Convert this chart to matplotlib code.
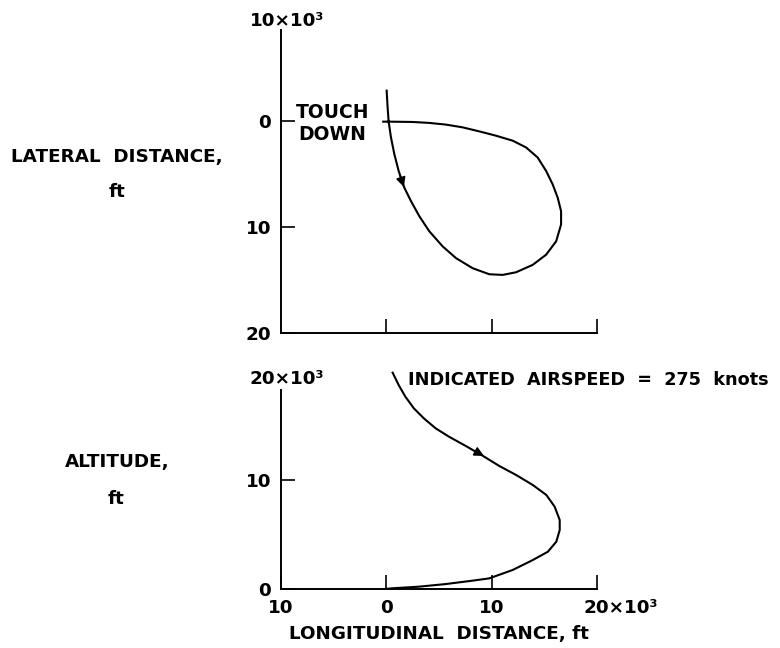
import numpy as np
import matplotlib
matplotlib.use('Agg')
import matplotlib.pyplot as plt

# flight path, distances in thousands of ft
lat_x = [0.03, 0.12, 0.22, 0.44, 0.76, 1.17, 1.71, 2.34, 3.13, 4.08, 5.35, 6.62, 8.2,
         9.78, 11.05, 12.32, 13.9, 15.17, 16.12, 16.59, 16.59, 16.27, 15.79, 15.17,
         14.37, 13.27, 12.0, 10.42, 8.83, 7.25, 5.67, 4.08, 2.5, 0.28, -0.3]
lat_y = [-2.9, -1.33, 0.03, 1.52, 3.1, 4.69, 6.27, 7.54, 8.96, 10.39, 11.82, 12.93, 13.88,
         14.45, 14.51, 14.26, 13.56, 12.6, 11.34, 9.75, 8.49, 7.22, 5.95, 4.69,
         3.42, 2.47, 1.83, 1.36, 0.95, 0.57, 0.31, 0.15, 0.06, 0.03, 0.03]

alt_x = [0.6, 1.17, 1.81, 2.61, 3.56, 4.68, 5.95, 7.55, 9.13, 10.73, 12.32, 13.91, 15.19,
         15.98, 16.46, 16.46, 16.14, 15.34, 13.91, 12.0, 9.77, 8.18, 5.64, 3.09, 0.53, -0.1]
alt_y = [19.82, 18.69, 17.62, 16.56, 15.64, 14.73, 13.96, 13.11, 12.23, 11.28, 10.46,
         9.54, 8.63, 7.56, 6.34, 5.43, 4.36, 3.44, 2.68, 1.77, 1.0, 0.79, 0.48, 0.24,
         0.09, 0.03]

# arrow heads (tail, head)
lat_arrow = [(1.2, 4.8), (1.75, 6.45)]
alt_arrow = [(8.2, 12.75), (9.5, 12.08)]

fs = 13.2
fw = 'bold'
plt.rcParams['font.family'] = ['DejaVu Sans']
plt.rcParams['font.weight'] = fw

W, H = 780, 648
fig = plt.figure(figsize=(7.8, 6.48), dpi=100)

def px_axes(x0, x1, ytop, ybot):
    return fig.add_axes([x0 / W, 1 - ybot / H, (x1 - x0) / W, (ybot - ytop) / H])

# top panel: lateral distance (inverted)
ax1 = px_axes(281, 597, 15.5, 333)
ax1.plot(lat_x, lat_y, color='black', lw=1.5, solid_joinstyle='round')
ax1.annotate('', xy=lat_arrow[1], xytext=lat_arrow[0],
             arrowprops=dict(arrowstyle='-|>', color='black', lw=1.2, mutation_scale=14))
ax1.set_xlim(-10, 20)
ax1.set_ylim(20, -10)
ax1.spines['left'].set_bounds(-8.6, 20)
ax1.spines['bottom'].set_bounds(-10, 20)
ax1.spines['top'].set_visible(False)
ax1.spines['right'].set_visible(False)
ax1.set_xticks([0, 10, 20])
ax1.set_xticklabels([])
ax1.set_yticks([0, 10, 20])
ax1.set_yticklabels(['0', '10', '20'])
ax1.tick_params(direction='in', length=10, width=1.2, labelsize=fs, pad=7)
ax1.annotate('10×10³', xy=(0, -9.5), xycoords=ax1.get_yaxis_transform(),
             xytext=(-22.5, 0), textcoords='offset points', ha='left', va='center',
             fontsize=fs, fontweight=fw)
ax1.text(-5.1, 0.2, 'TOUCH\nDOWN', ha='center', va='center', fontsize=13.5,
         fontweight=fw, linespacing=1.25)
fig.text(117 / W, 1 - 157 / H, 'LATERAL  DISTANCE,', ha='center', va='center',
         fontsize=fs, fontweight=fw)
fig.text(117 / W, 1 - 192 / H, 'ft', ha='center', va='center', fontsize=fs, fontweight=fw)

# bottom panel: altitude
ax2 = px_axes(281, 597, 370.7, 589.3)
ax2.plot(alt_x, alt_y, color='black', lw=1.5, solid_joinstyle='round')
ax2.annotate('', xy=alt_arrow[1], xytext=alt_arrow[0],
             arrowprops=dict(arrowstyle='-|>', color='black', lw=1.2, mutation_scale=14))
ax2.set_xlim(-10, 20)
ax2.set_ylim(0, 20)
ax2.spines['left'].set_bounds(0, 18.2)
ax2.spines['top'].set_visible(False)
ax2.spines['right'].set_visible(False)
ax2.set_xticks([-10, 0, 10, 20])
ax2.set_xticklabels(['10', '0', '10', ''])
ax2.set_yticks([0, 10])
ax2.set_yticklabels(['0', '10'])
ax2.tick_params(direction='in', length=10, width=1.2, labelsize=fs, pad=7)
ax2.annotate('20×10³', xy=(20, 0), xycoords=ax2.get_xaxis_transform(),
             xytext=(-10, -7), textcoords='offset points', ha='left', va='top',
             fontsize=fs, fontweight=fw)
ax2.annotate('20×10³', xy=(0, 19.25), xycoords=ax2.get_yaxis_transform(),
             xytext=(-22.5, 0), textcoords='offset points', ha='left', va='center',
             fontsize=fs, fontweight=fw)
ax2.set_xlabel('LONGITUDINAL  DISTANCE, ft', fontsize=fs, fontweight=fw, labelpad=6)
fig.text(408 / W, 1 - 380 / H, 'INDICATED  AIRSPEED  =  275  knots', ha='left',
         va='center', fontsize=12.7, fontweight=fw)
fig.text(117.5 / W, 1 - 462 / H, 'ALTITUDE,', ha='center', va='center', fontsize=fs, fontweight=fw)
fig.text(116 / W, 1 - 499 / H, 'ft', ha='center', va='center', fontsize=fs, fontweight=fw)

for ax in (ax1, ax2):
    for s in ('left', 'bottom'):
        ax.spines[s].set_linewidth(1.4)
    ax.patch.set_alpha(0)

fig.savefig('out.png', dpi=100)
